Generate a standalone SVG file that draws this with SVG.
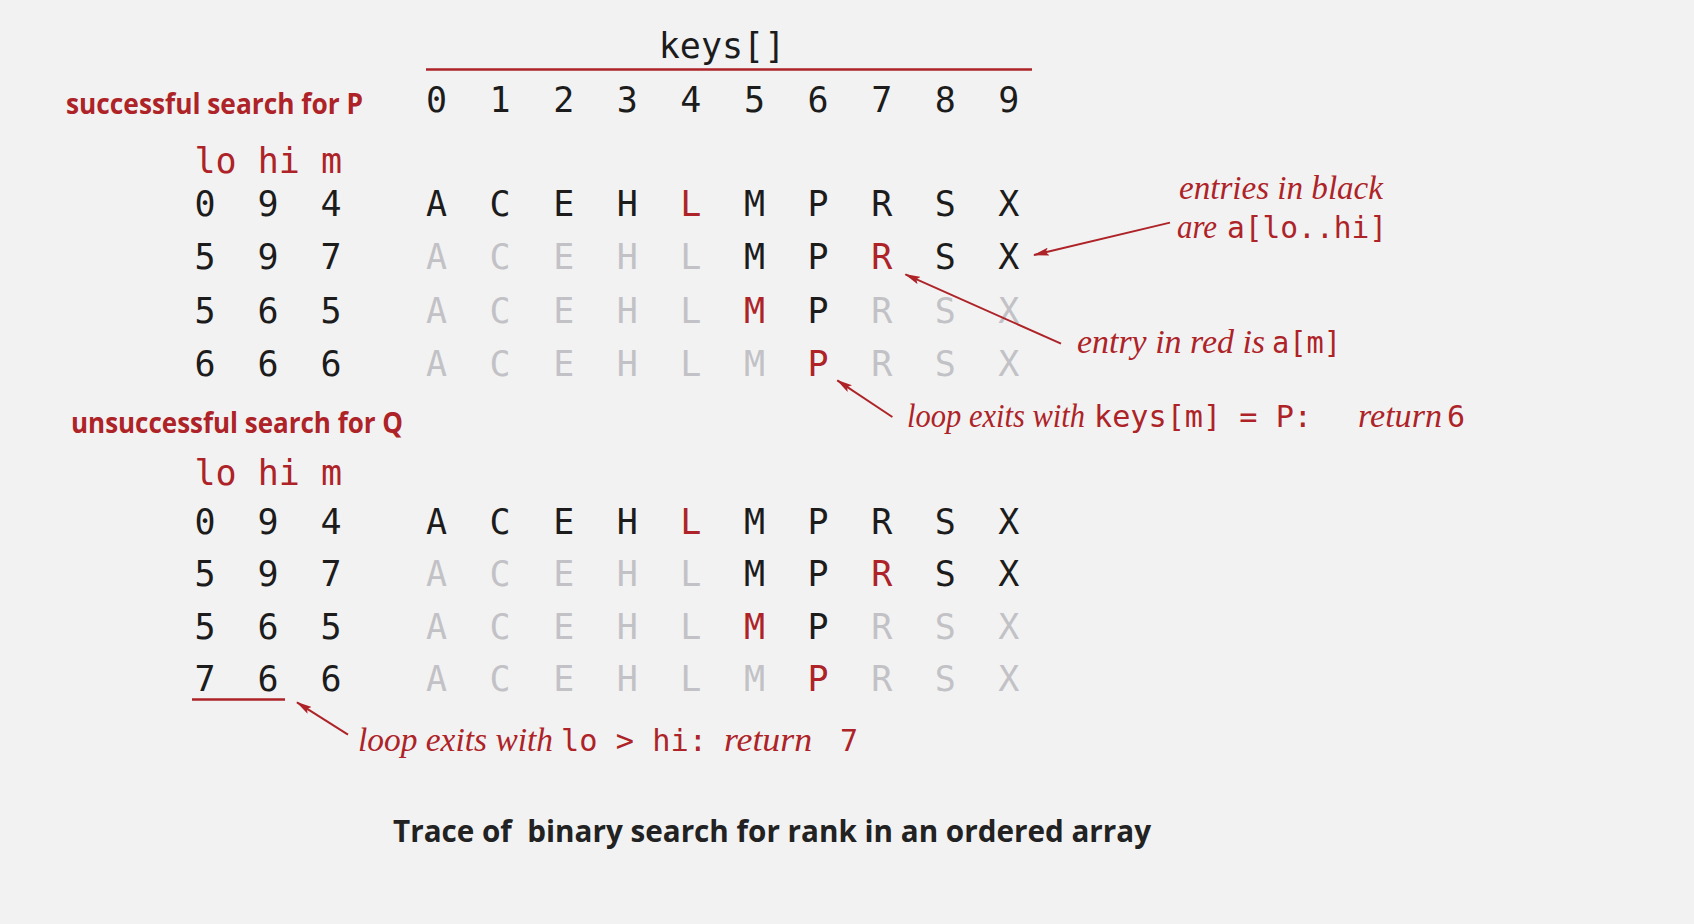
<svg xmlns="http://www.w3.org/2000/svg" width="1694" height="924" viewBox="0 0 1694 924">
<defs>
<style>
.mono{font-family:"DejaVu Sans Mono","Liberation Mono",monospace;font-size:35px;}
.c{text-anchor:middle;}
.k{fill:#1c1c1c;}
.g{fill:#c2c2c6;}
.r{fill:#ad2327;}
.lbl{font-family:"Open Sans","Liberation Sans",sans-serif;font-weight:bold;font-size:28px;fill:#ad2327;}
.it{font-family:"Liberation Serif",serif;font-style:italic;font-size:33px;fill:#ad2327;}
.am{font-family:"DejaVu Sans Mono","Liberation Mono",monospace;font-size:30px;fill:#ad2327;}
.cap{font-family:"Open Sans","Liberation Sans",sans-serif;font-weight:bold;font-size:30px;fill:#222;}
.ln{stroke:#ad2327;stroke-width:2;fill:none;}
</style>
<marker id="ah" viewBox="0 0 16 8" refX="15" refY="4" markerWidth="16" markerHeight="8" markerUnits="userSpaceOnUse" orient="auto">
<path d="M0,0 L16,4 L0,8 L3,4 z" fill="#ad2327"/>
</marker>
</defs>
<rect x="0" y="0" width="1694" height="924" fill="#f2f2f2"/>

<g id="header">
<text class="mono k c" x="722" y="58">keys[]</text>
<line x1="426" y1="69.5" x2="1032" y2="69.5" stroke="#ad2327" stroke-width="2.5"/>
<g class="mono k c">
<text x="436.5" y="112">0</text><text x="500.1" y="112">1</text><text x="563.7" y="112">2</text><text x="627.3" y="112">3</text><text x="690.9" y="112">4</text><text x="754.5" y="112">5</text><text x="818.1" y="112">6</text><text x="881.7" y="112">7</text><text x="945.3" y="112">8</text><text x="1008.9" y="112">9</text>
</g>
</g>

<g id="block1">
<text class="lbl" x="66" y="114" textLength="297" lengthAdjust="spacingAndGlyphs">successful search for P</text>
<text class="mono r" x="194.5" y="173">lo hi m</text>
<g class="mono c">
<text class="k" x="205" y="216">0</text><text class="k" x="268" y="216">9</text><text class="k" x="331" y="216">4</text>
<text class="k" x="436.5" y="216">A</text><text class="k" x="500.1" y="216">C</text><text class="k" x="563.7" y="216">E</text><text class="k" x="627.3" y="216">H</text><text class="r" x="690.9" y="216">L</text><text class="k" x="754.5" y="216">M</text><text class="k" x="818.1" y="216">P</text><text class="k" x="881.7" y="216">R</text><text class="k" x="945.3" y="216">S</text><text class="k" x="1008.9" y="216">X</text>

<text class="k" x="205" y="269">5</text><text class="k" x="268" y="269">9</text><text class="k" x="331" y="269">7</text>
<text class="g" x="436.5" y="269">A</text><text class="g" x="500.1" y="269">C</text><text class="g" x="563.7" y="269">E</text><text class="g" x="627.3" y="269">H</text><text class="g" x="690.9" y="269">L</text><text class="k" x="754.5" y="269">M</text><text class="k" x="818.1" y="269">P</text><text class="r" x="881.7" y="269">R</text><text class="k" x="945.3" y="269">S</text><text class="k" x="1008.9" y="269">X</text>

<text class="k" x="205" y="323">5</text><text class="k" x="268" y="323">6</text><text class="k" x="331" y="323">5</text>
<text class="g" x="436.5" y="323">A</text><text class="g" x="500.1" y="323">C</text><text class="g" x="563.7" y="323">E</text><text class="g" x="627.3" y="323">H</text><text class="g" x="690.9" y="323">L</text><text class="r" x="754.5" y="323">M</text><text class="k" x="818.1" y="323">P</text><text class="g" x="881.7" y="323">R</text><text class="g" x="945.3" y="323">S</text><text class="g" x="1008.9" y="323">X</text>

<text class="k" x="205" y="376">6</text><text class="k" x="268" y="376">6</text><text class="k" x="331" y="376">6</text>
<text class="g" x="436.5" y="376">A</text><text class="g" x="500.1" y="376">C</text><text class="g" x="563.7" y="376">E</text><text class="g" x="627.3" y="376">H</text><text class="g" x="690.9" y="376">L</text><text class="g" x="754.5" y="376">M</text><text class="r" x="818.1" y="376">P</text><text class="g" x="881.7" y="376">R</text><text class="g" x="945.3" y="376">S</text><text class="g" x="1008.9" y="376">X</text>
</g>
</g>

<g id="block2">
<text class="lbl" x="71" y="433" textLength="332" lengthAdjust="spacingAndGlyphs">unsuccessful search for Q</text>
<text class="mono r" x="194.5" y="485">lo hi m</text>
<g class="mono c">
<text class="k" x="205" y="534">0</text><text class="k" x="268" y="534">9</text><text class="k" x="331" y="534">4</text>
<text class="k" x="436.5" y="534">A</text><text class="k" x="500.1" y="534">C</text><text class="k" x="563.7" y="534">E</text><text class="k" x="627.3" y="534">H</text><text class="r" x="690.9" y="534">L</text><text class="k" x="754.5" y="534">M</text><text class="k" x="818.1" y="534">P</text><text class="k" x="881.7" y="534">R</text><text class="k" x="945.3" y="534">S</text><text class="k" x="1008.9" y="534">X</text>

<text class="k" x="205" y="586">5</text><text class="k" x="268" y="586">9</text><text class="k" x="331" y="586">7</text>
<text class="g" x="436.5" y="586">A</text><text class="g" x="500.1" y="586">C</text><text class="g" x="563.7" y="586">E</text><text class="g" x="627.3" y="586">H</text><text class="g" x="690.9" y="586">L</text><text class="k" x="754.5" y="586">M</text><text class="k" x="818.1" y="586">P</text><text class="r" x="881.7" y="586">R</text><text class="k" x="945.3" y="586">S</text><text class="k" x="1008.9" y="586">X</text>

<text class="k" x="205" y="639">5</text><text class="k" x="268" y="639">6</text><text class="k" x="331" y="639">5</text>
<text class="g" x="436.5" y="639">A</text><text class="g" x="500.1" y="639">C</text><text class="g" x="563.7" y="639">E</text><text class="g" x="627.3" y="639">H</text><text class="g" x="690.9" y="639">L</text><text class="r" x="754.5" y="639">M</text><text class="k" x="818.1" y="639">P</text><text class="g" x="881.7" y="639">R</text><text class="g" x="945.3" y="639">S</text><text class="g" x="1008.9" y="639">X</text>

<text class="k" x="205" y="691">7</text><text class="k" x="268" y="691">6</text><text class="k" x="331" y="691">6</text>
<text class="g" x="436.5" y="691">A</text><text class="g" x="500.1" y="691">C</text><text class="g" x="563.7" y="691">E</text><text class="g" x="627.3" y="691">H</text><text class="g" x="690.9" y="691">L</text><text class="g" x="754.5" y="691">M</text><text class="r" x="818.1" y="691">P</text><text class="g" x="881.7" y="691">R</text><text class="g" x="945.3" y="691">S</text><text class="g" x="1008.9" y="691">X</text>
</g>
<line x1="192" y1="699.5" x2="285" y2="699.5" stroke="#ad2327" stroke-width="2.5"/>
</g>

<g id="note-black">
<text class="it" x="1179" y="199" textLength="204" lengthAdjust="spacingAndGlyphs">entries in black</text>
<text class="it" x="1177" y="238" textLength="40" lengthAdjust="spacingAndGlyphs">are</text>
<text class="am" x="1227" y="238" textLength="160" lengthAdjust="spacingAndGlyphs">a[lo..hi]</text>
</g>

<g id="note-red">
<text class="it" x="1077" y="353" textLength="188" lengthAdjust="spacingAndGlyphs">entry in red is</text>
<text class="am" x="1272" y="353" textLength="69" lengthAdjust="spacingAndGlyphs">a[m]</text>
</g>

<g id="note-found">
<text class="it" x="907" y="427" textLength="178" lengthAdjust="spacingAndGlyphs">loop exits with</text>
<text class="am" x="1094" y="427" textLength="218" lengthAdjust="spacingAndGlyphs">keys[m] = P:</text>
<text class="it" x="1358" y="427" textLength="84" lengthAdjust="spacingAndGlyphs">return</text>
<text class="am" x="1447" y="427">6</text>
</g>

<g id="note-notfound">
<text class="it" x="358" y="751" textLength="195" lengthAdjust="spacingAndGlyphs">loop exits with</text>
<text class="am" x="561" y="751" textLength="146" lengthAdjust="spacingAndGlyphs">lo &gt; hi:</text>
<text class="it" x="724" y="751" textLength="88" lengthAdjust="spacingAndGlyphs">return</text>
<text class="am" x="840" y="751">7</text>
</g>

<g id="connectors">
<line class="ln" x1="1170" y1="222.6" x2="1034" y2="255" marker-end="url(#ah)"/>
<line class="ln" x1="1061" y1="343.6" x2="905.4" y2="274.4" marker-end="url(#ah)"/>
<line class="ln" x1="892.4" y1="417" x2="837.3" y2="380.3" marker-end="url(#ah)"/>
<line class="ln" x1="348" y1="734.7" x2="297" y2="702.3" marker-end="url(#ah)"/>
</g>

<g id="caption">
<text class="cap" x="393" y="842" textLength="758" lengthAdjust="spacingAndGlyphs">Trace of&#160; binary search for rank in an ordered array</text>
</g>
</svg>
